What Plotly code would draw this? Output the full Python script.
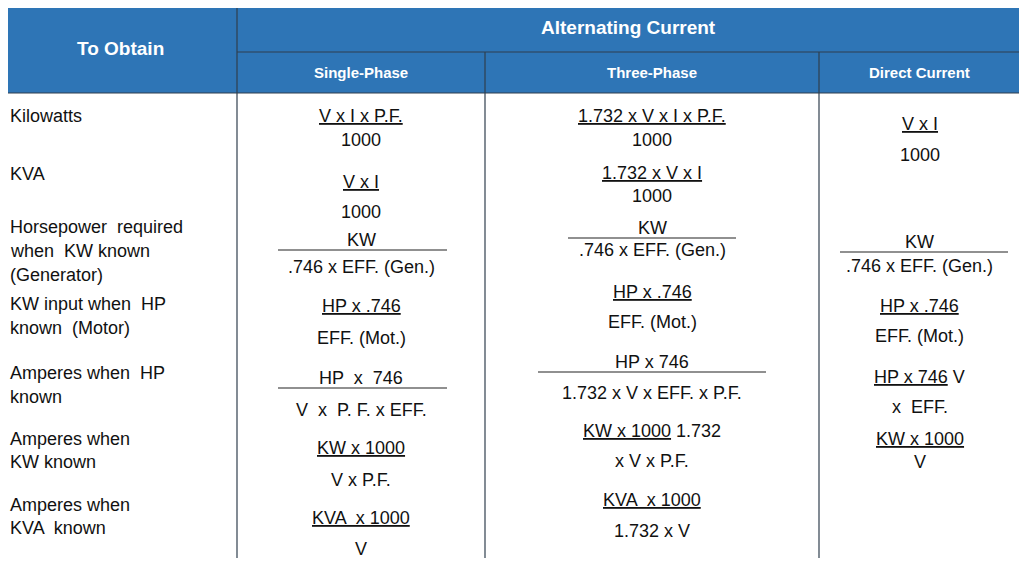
import plotly.graph_objects as go

W, H = 1027, 566
OFF = 8  # default page body margin
col_edges = [3, 237, 485, 819, 1020]
top, h1, h2, bottom = 3, 52, 93, 562

header_main = ["To Obtain", "Alternating Current"]
header_sub = ["Single-Phase", "Three-Phase", "Direct Current"]

# (text, y) per column
col1 = [("Kilowatts", 116), ("KVA", 174), ("Horsepower  required", 227), ("when  KW known", 251),
        ("(Generator)", 275), ("KW input when  HP", 304), ("known  (Motor)", 328),
        ("Amperes when  HP", 373), ("known", 397), ("Amperes when", 439), ("KW known", 462),
        ("Amperes when", 505), ("KVA  known", 528)]
col2 = [("<u>V x I x P.F.</u>", 116), ("1000", 140), ("<u>V x I</u>", 182), ("1000", 212),
        ("KW", 240), (".746 x EFF. (Gen.)", 267), ("<u>HP x .746</u>", 306), ("EFF. (Mot.)", 338),
        ("HP  x  746", 378), ("V  x  P. F. x EFF.", 410), ("<u>KW x 1000</u>", 448), ("V x P.F.", 480),
        ("<u>KVA  x 1000</u>", 518), ("V", 549)]
col3 = [("<u>1.732 x V x I x P.F.</u>", 116), ("1000", 140), ("<u>1.732 x V x I</u>", 173), ("1000", 196),
        ("KW", 228), (".746 x EFF. (Gen.)", 250), ("<u>HP x .746</u>", 292), ("EFF. (Mot.)", 322),
        ("HP x 746", 362), ("1.732 x V x EFF. x P.F.", 393), ("<u>KW x 1000</u> 1.732", 431),
        ("x V x P.F.", 461), ("<u>KVA  x 1000</u>", 500), ("1.732 x V", 531)]
col4 = [("<u>V x I</u>", 124), ("1000", 155), ("KW", 242), (".746 x EFF. (Gen.)", 266),
        ("<u>HP x .746</u>", 306), ("EFF. (Mot.)", 336), ("<u>HP x 746</u> V", 377), ("x  EFF.", 407),
        ("<u>KW x 1000</u>", 439), ("V", 462)]
# fraction bars: (x0, x1, y)
bars = [(278, 447, 250), (278, 447, 388), (568, 736, 238), (538, 766, 372), (840, 1008, 252)]

HEAD = "#2E75B6"
LINE = "#2F3E4E"
FONT = "Liberation Sans, Arial"

fig = go.Figure()
shapes = []
shapes.append(dict(type="rect", x0=col_edges[0], x1=col_edges[-1], y0=top, y1=h2,
                   fillcolor=HEAD, line=dict(width=0), layer="below"))
lw = 1.2
shapes.append(dict(type="rect", x0=col_edges[0], x1=col_edges[-1], y0=top, y1=bottom, line=dict(color=LINE, width=lw)))
for x in col_edges[1:-1]:
    shapes.append(dict(type="line", x0=x, x1=x, y0=(top if x == col_edges[1] else h1), y1=bottom, line=dict(color=LINE, width=lw)))
shapes.append(dict(type="line", x0=col_edges[1], x1=col_edges[-1], y0=h1, y1=h1, line=dict(color=LINE, width=lw)))
shapes.append(dict(type="line", x0=col_edges[0], x1=col_edges[-1], y0=h2, y1=h2, line=dict(color=LINE, width=lw)))
for x0, x1, y in bars:
    shapes.append(dict(type="line", x0=x0, x1=x1, y0=y, y1=y, line=dict(color="#222", width=1.2)))

ann = []
ann.append(dict(x=(col_edges[0] + col_edges[1]) / 2, y=(top + h2) / 2, text="<b>" + header_main[0] + "</b>",
                font=dict(color="white", size=19, family=FONT)))
ann.append(dict(x=(col_edges[1] + col_edges[-1]) / 2, y=(top + h1) / 2, text="<b>" + header_main[1] + "</b>",
                font=dict(color="white", size=19, family=FONT)))
for i, t in enumerate(header_sub):
    ann.append(dict(x=(col_edges[i + 1] + col_edges[i + 2]) / 2, y=(h1 + h2) / 2, text="<b>" + t + "</b>",
                    font=dict(color="white", size=15, family=FONT)))
for t, y in col1:
    ann.append(dict(x=8, y=y, text=t, xanchor="left", font=dict(color="#111", size=18, family=FONT)))
for ci, col in zip([1, 2, 3], [col2, col3, col4]):
    cx = (col_edges[ci] + col_edges[ci + 1]) / 2
    for t, y in col:
        ann.append(dict(x=cx, y=y, text=t, font=dict(color="#111", size=18, family=FONT)))
for a in ann:
    a.update(showarrow=False, xref="x", yref="y")
    a.setdefault("xanchor", "center")

fig.update_layout(width=W - 2 * OFF, height=H - 2 * OFF, margin=dict(l=0, r=0, t=0, b=0),
                  paper_bgcolor="white", plot_bgcolor="white",
                  xaxis=dict(range=[OFF, W - OFF], visible=False, fixedrange=True),
                  yaxis=dict(range=[H - OFF, OFF], visible=False, fixedrange=True),
                  shapes=shapes, annotations=ann, showlegend=False)
fig.write_html("out.html", config={"displayModeBar": False})
